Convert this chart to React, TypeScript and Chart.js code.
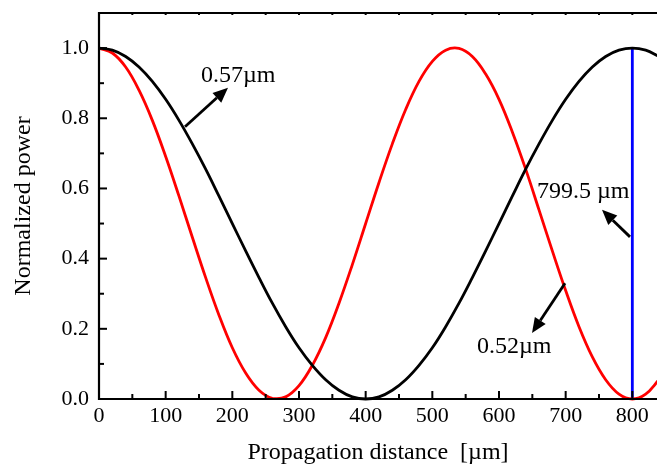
import React, { useEffect, useRef } from "react";
import { Chart, registerables } from "chart.js";

Chart.register(...registerables);

const distance = [0, 20, 40, 60, 80, 100, 120, 140, 160, 180, 200, 220, 240, 260, 280, 300, 320, 340, 360, 380, 400, 420, 440, 460, 480, 500, 520, 540, 560, 580, 600, 620, 640, 660, 680, 700, 720, 740, 760, 780, 800, 820, 840];

// 0.57 µm (black)
const power057 = [1.0, 0.994, 0.976, 0.946, 0.905, 0.854, 0.794, 0.727, 0.655, 0.578, 0.5, 0.422, 0.346, 0.273, 0.206, 0.146, 0.096, 0.055, 0.025, 0.006, 0.0, 0.006, 0.025, 0.055, 0.096, 0.146, 0.206, 0.273, 0.346, 0.422, 0.5, 0.578, 0.655, 0.727, 0.794, 0.854, 0.905, 0.946, 0.976, 0.994, 1.0, 0.994, 0.976];

// 0.52 µm (red)
const power052 = [1.0, 0.986, 0.946, 0.880, 0.794, 0.691, 0.578, 0.461, 0.346, 0.239, 0.146, 0.074, 0.025, 0.002, 0.006, 0.038, 0.096, 0.175, 0.273, 0.383, 0.5, 0.617, 0.727, 0.825, 0.905, 0.962, 0.994, 0.999, 0.976, 0.926, 0.854, 0.761, 0.655, 0.539, 0.422, 0.309, 0.206, 0.120, 0.055, 0.014, 0.0, 0.014, 0.055];

// coupling length marker
const markerX = [800, 800];
const markerY = [0, 1.0];

const xTicks = [0, 100, 200, 300, 400, 500, 600, 700, 800];
const yTicks = [0, 0.2, 0.4, 0.6, 0.8, 1.0];
const xMax = 837;
const yMax = 1.1;

// annotations: label, label position (data), arrow tail and head (data)
const annLabels = ["0.57\u00b5m", "799.5 \u00b5m", "0.52\u00b5m"];
const annTextX = [153, 657, 567];
const annTextY = [0.922, 0.59, 0.148];
const annTailX = [129, 796.5, 699];
const annTailY = [0.776, 0.462, 0.33];
const annHeadX = [193.5, 754.5, 649.5];
const annHeadY = [0.887, 0.539, 0.188];

const FONT = "'Liberation Serif', 'Times New Roman', serif";

const framePlugin = {
  id: "framePlugin",
  afterDatasetsDraw(chart: any) {
    const { ctx, chartArea, scales } = chart;
    const xs = scales.x;
    const ys = scales.y;
    const { left, right, top, bottom } = chartArea;
    ctx.save();

    // annotations
    ctx.fillStyle = "#000";
    ctx.strokeStyle = "#000";
    ctx.font = `24px ${FONT}`;
    ctx.textAlign = "left";
    ctx.textBaseline = "middle";
    for (let i = 0; i < annLabels.length; i++) {
      ctx.fillText(annLabels[i], xs.getPixelForValue(annTextX[i]), ys.getPixelForValue(annTextY[i]));
      const x0 = xs.getPixelForValue(annTailX[i]);
      const y0 = ys.getPixelForValue(annTailY[i]);
      const x1 = xs.getPixelForValue(annHeadX[i]);
      const y1 = ys.getPixelForValue(annHeadY[i]);
      const ang = Math.atan2(y1 - y0, x1 - x0);
      const hl = 15;
      const hw = 6.5;
      const bx = x1 - hl * Math.cos(ang);
      const by = y1 - hl * Math.sin(ang);
      ctx.lineWidth = 2.8;
      ctx.beginPath();
      ctx.moveTo(x0, y0);
      ctx.lineTo(bx, by);
      ctx.stroke();
      ctx.beginPath();
      ctx.moveTo(x1, y1);
      ctx.lineTo(bx + hw * Math.sin(ang), by - hw * Math.cos(ang));
      ctx.lineTo(bx - hw * Math.sin(ang), by + hw * Math.cos(ang));
      ctx.closePath();
      ctx.fill();
    }

    // frame
    ctx.lineWidth = 2.2;
    ctx.lineCap = "square";
    ctx.beginPath();
    ctx.moveTo(left, top);
    ctx.lineTo(left, bottom);
    ctx.lineTo(right, bottom);
    ctx.moveTo(left, top);
    ctx.lineTo(right, top);
    ctx.stroke();

    ctx.lineCap = "butt";
    ctx.lineWidth = 2;
    // x ticks (inward, bottom) and tiny top ticks
    for (let i = 0; i < xTicks.length; i++) {
      const v = xTicks[i];
      const mids = [v, v + (xTicks[1] - xTicks[0]) / 2];
      mids.forEach((m, j) => {
        if (m > xMax) return;
        const px = xs.getPixelForValue(m);
        const len = j === 0 ? 8 : 5;
        ctx.beginPath();
        ctx.moveTo(px, bottom);
        ctx.lineTo(px, bottom - len);
        ctx.moveTo(px, top);
        ctx.lineTo(px, top + 2);
        ctx.stroke();
      });
    }
    // y ticks (inward, left)
    for (let i = 0; i < yTicks.length; i++) {
      const v = yTicks[i];
      const mids = [v, v + (yTicks[1] - yTicks[0]) / 2];
      mids.forEach((m, j) => {
        if (m > yMax) return;
        const py = ys.getPixelForValue(m);
        const len = j === 0 ? 8 : 5;
        ctx.beginPath();
        ctx.moveTo(left, py);
        ctx.lineTo(left + len, py);
        ctx.stroke();
      });
    }
    ctx.restore();
  },
};

export default function App() {
  const ref = useRef<HTMLCanvasElement>(null);
  useEffect(() => {
    const canvas = ref.current;
    if (!canvas) return;
    const chart = new Chart(canvas, {
      type: "line",
      data: {
        datasets: [
          {
            label: "0.57 \u00b5m",
            data: distance.map((d, i) => ({ x: d, y: power057[i] })),
            borderColor: "#000000",
            borderWidth: 2.8,
            pointRadius: 0,
            tension: 0.4,
            fill: false,
            clip: { left: 5, top: 5, right: 0, bottom: 5 },
          },
          {
            label: "0.52 \u00b5m",
            data: distance.map((d, i) => ({ x: d, y: power052[i] })),
            borderColor: "#ff0000",
            borderWidth: 2.8,
            pointRadius: 0,
            tension: 0.4,
            fill: false,
            clip: { left: 5, top: 5, right: 0, bottom: 5 },
          },
          {
            label: "799.5 \u00b5m",
            data: markerX.map((d, i) => ({ x: d, y: markerY[i] })),
            borderColor: "#0000ff",
            borderWidth: 2.8,
            pointRadius: 0,
            fill: false,
            clip: 5,
          },
        ],
      },
      options: {
        animation: false,
        responsive: false,
        devicePixelRatio: 1,
        layout: { padding: { top: 13, right: 0, left: 0, bottom: 0 } },
        plugins: {
          legend: { display: false },
          tooltip: { enabled: false },
        },
        scales: {
          x: {
            type: "linear",
            min: 0,
            max: xMax,
            grid: { display: false, drawTicks: false },
            border: { display: false },
            afterBuildTicks: (s: any) => {
              s.ticks = xTicks.map((v) => ({ value: v }));
            },
            afterFit: (s: any) => {
              s.height = 69;
              s.paddingLeft = 0;
              s.paddingRight = 0;
            },
            ticks: {
              padding: 4,
              color: "#000",
              maxRotation: 0,
              autoSkip: false,
              font: { family: FONT, size: 22 },
              callback: (v: any) => String(v),
            },
            title: {
              display: true,
              text: "Propagation distance  [\u00b5m]",
              color: "#000",
              font: { family: FONT, size: 24 },
              padding: { top: 0, bottom: 1 },
            },
          },
          y: {
            type: "linear",
            min: 0,
            max: yMax,
            grid: { display: false, drawTicks: false },
            border: { display: false },
            afterBuildTicks: (s: any) => {
              s.ticks = yTicks.map((v) => ({ value: v }));
            },
            afterFit: (s: any) => {
              s.width = 99;
              s.paddingTop = 0;
              s.paddingBottom = 0;
            },
            ticks: {
              padding: 10,
              color: "#000",
              autoSkip: false,
              font: { family: FONT, size: 22 },
              callback: (v: any) => Number(v).toFixed(1),
            },
            title: {
              display: true,
              text: "Normalized power",
              color: "#000",
              font: { family: FONT, size: 24 },
              padding: { top: 9, bottom: 0 },
            },
          },
        },
      },
      plugins: [framePlugin],
    } as any);
    return () => chart.destroy();
  }, []);

  return (
    <div style={{ position: "fixed", left: 0, top: 0, width: 657, height: 468, background: "#fff" }}>
      <canvas ref={ref} width={657} height={468} style={{ display: "block" }} />
    </div>
  );
}
